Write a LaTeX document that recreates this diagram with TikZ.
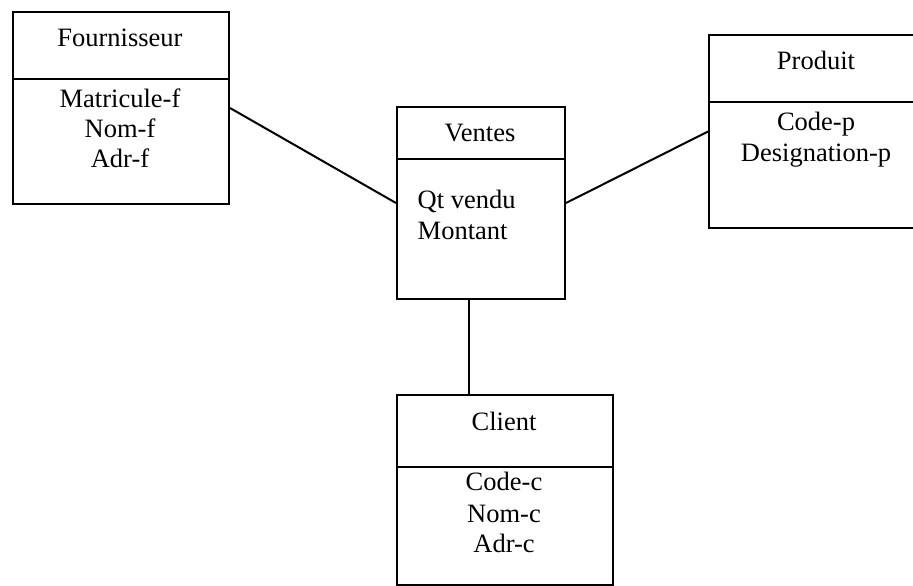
\documentclass[tikz,border=0pt]{standalone}
\usepackage{fontspec}
\setmainfont{Liberation Serif}
\begin{document}
\begin{tikzpicture}[x=1pt, y=-1pt, line width=2pt,
  entity/.style={draw, rectangle, inner sep=0pt, anchor=north west,
                 minimum height=192pt},
  label/.style={inner sep=0pt, anchor=base, font=\fontsize{26.5}{30}\selectfont},
  lefttext/.style={label, anchor=base west}]
  \useasboundingbox (0,0) rectangle (913,586);
  \clip (0,0) rectangle (913,586);

  % entity boxes
  \node[entity, minimum width=216pt] (four) at (12,11) {};
  \node[entity, minimum width=216pt] (prod) at (708,34.5) {};
  \node[entity, minimum width=168pt] (vent) at (396,106) {};
  \node[entity, minimum width=216pt, minimum height=190.5pt] (cli) at (396,393.5) {};

  % header separators
  \draw ([yshift=-68pt]four.north west) -- ([yshift=-68pt]four.north east);
  \draw ([yshift=-67pt]prod.north west) -- ([yshift=-67pt]prod.north east);
  \draw ([yshift=-53pt]vent.north west) -- ([yshift=-53pt]vent.north east);
  \draw ([yshift=-73pt]cli.north west)  -- ([yshift=-73pt]cli.north east);

  % titles
  \node[label] (tfour) at (120,46.7)  {Fournisseur};
  \node[label] (tprod) at (816,70)    {Produit};
  \node[label] (tvent) at (480,141.7) {Ventes};
  \node[label] (tcli)  at (504,430)   {Client};

  % attributes
  \node[label] (af1) at (120,107.3) {Matricule-f};
  \node[label] (af2) at (120,137.7) {Nom-f};
  \node[label] (af3) at (120,167.7) {Adr-f};

  \node[label] (ap1) at (816,130)   {Code-p};
  \node[label] (ap2) at (816,161.7) {Designation-p};

  \node[lefttext] (av1) at (416.7,208.3) {Qt vendu};
  \node[lefttext] (av2) at (416.7,239.3) {Montant};

  \node[label] (ac1) at (504,490.7) {Code-c};
  \node[label] (ac2) at (504,522.3) {Nom-c};
  \node[label] (ac3) at (504,552.7) {Adr-c};

  % associations
  \draw (four.east) -- (vent.west);
  \draw (vent.east) -- (prod.west);
  \draw ([xshift=-12.3pt]vent.south) -- ([xshift=-12.3pt]vent.south |- cli.north);
\end{tikzpicture}
\end{document}
